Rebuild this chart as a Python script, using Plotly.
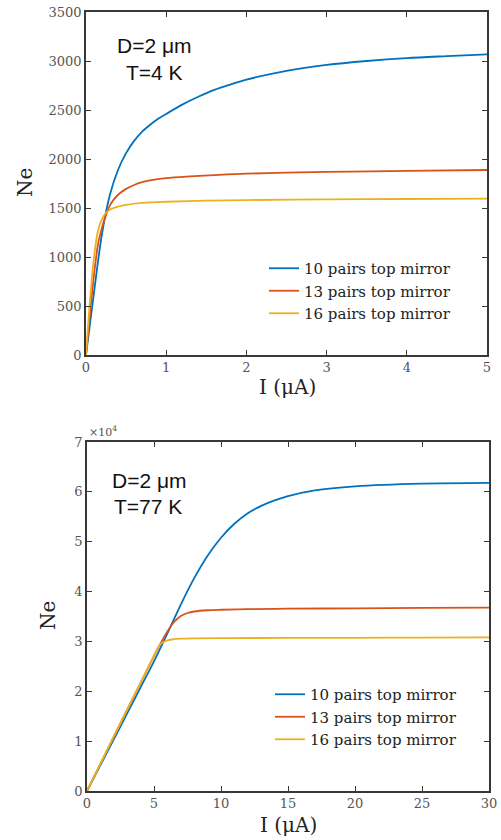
import plotly.graph_objects as go

# ---------------- data: D=2 um, T=4 K ----------------
names = ["10 pairs top mirror", "13 pairs top mirror", "16 pairs top mirror"]
colors = ["#0072BD", "#D95319", "#EDB120"]

I4_10 = [0, 0.1, 0.2, 0.3, 0.4, 0.5, 0.6, 0.7, 0.8, 0.9, 1.0, 1.2, 1.4, 1.6, 1.8, 2.0, 2.5, 3.0, 3.5, 4.0, 4.5, 5.0]
Ne4_10 = [0, 640, 1240, 1640, 1890, 2060, 2185, 2280, 2350, 2410, 2460, 2555, 2635, 2705, 2760, 2810, 2900, 2960, 3000, 3030, 3050, 3068]

I4_13 = [0, 0.05, 0.1, 0.15, 0.2, 0.25, 0.3, 0.35, 0.4, 0.5, 0.6, 0.7, 0.8, 1.0, 1.3, 1.6, 2.0, 2.5, 3.0, 4.0, 5.0]
Ne4_13 = [0, 430, 820, 1130, 1300, 1430, 1530, 1590, 1635, 1695, 1735, 1763, 1782, 1805, 1822, 1835, 1850, 1860, 1868, 1879, 1888]

I4_16 = [0, 0.05, 0.1, 0.15, 0.2, 0.25, 0.3, 0.4, 0.5, 0.7, 1.0, 1.5, 2.0, 3.0, 4.0, 5.0]
Ne4_16 = [0, 560, 1000, 1270, 1390, 1450, 1485, 1515, 1533, 1552, 1564, 1575, 1581, 1588, 1592, 1596]

# ---------------- data: D=2 um, T=77 K ----------------
I77_10 = [0, 2, 4, 5, 6, 7, 8, 9, 10, 11, 12, 13, 14, 15, 17, 20, 25, 30]
Ne77_10 = [0, 10350, 20800, 26000, 31600, 37400, 42700, 47200, 50800, 53600, 55700, 57200, 58300, 59150, 60300, 61100, 61650, 61800]

I77_13 = [0, 2, 4, 5, 5.5, 6, 6.5, 7, 7.5, 8, 9, 10, 12, 15, 20, 25, 30]
Ne77_13 = [0, 10900, 21700, 27100, 29650, 32000, 33900, 35100, 35700, 36000, 36250, 36350, 36480, 36560, 36640, 36720, 36800]

I77_16 = [0, 2, 4, 5, 5.5, 6, 6.5, 7, 8, 10, 15, 20, 25, 30]
Ne77_16 = [0, 10900, 21700, 27100, 29500, 30200, 30450, 30550, 30620, 30660, 30700, 30730, 30770, 30800]

x4_ticks = [0, 1, 2, 3, 4, 5]
y4_ticks = [0, 500, 1000, 1500, 2000, 2500, 3000, 3500]
x77_ticks = [0, 5, 10, 15, 20, 25, 30]
y77_ticks = [0, 10000, 20000, 30000, 40000, 50000, 60000, 70000]
y77_ticktext = ["0", "1", "2", "3", "4", "5", "6", "7"]

W, H = 501, 840
SERIF = "DejaVu Serif"
SANS = "Liberation Sans"

fig = go.Figure()
top = [(I4_10, Ne4_10), (I4_13, Ne4_13), (I4_16, Ne4_16)]
bot = [(I77_10, Ne77_10), (I77_13, Ne77_13), (I77_16, Ne77_16)]
for k, (xs, ys) in enumerate(top):
    fig.add_trace(go.Scatter(x=xs, y=ys, mode="lines", name=names[k],
                             line=dict(color=colors[k], width=1.8, shape="spline", smoothing=0.9),
                             xaxis="x", yaxis="y", legend="legend"))
for k, (xs, ys) in enumerate(bot):
    fig.add_trace(go.Scatter(x=xs, y=ys, mode="lines", name=names[k],
                             line=dict(color=colors[k], width=1.8, shape="spline", smoothing=0.9),
                             xaxis="x2", yaxis="y2", legend="legend2"))

axis_common = dict(showline=True, linecolor="#383838", linewidth=1.5, mirror="ticks",
                   ticks="inside", ticklen=5, tickcolor="#383838", tickwidth=1.2,
                   showgrid=False, zeroline=False, automargin=False,
                   tickfont=dict(family=SERIF, size=13, color="#555555"))

def px_x(p):
    return p / W

def px_y(p):
    return 1 - p / H

fig.update_layout(
    width=W, height=H,
    margin=dict(l=0, r=0, t=0, b=0, autoexpand=False),
    paper_bgcolor="white", plot_bgcolor="white",
    xaxis=dict(domain=[px_x(86), px_x(487)], anchor="y", range=[0, 5], tickvals=x4_ticks, **axis_common),
    yaxis=dict(domain=[px_y(355), px_y(12)], anchor="x", range=[0, 3500], tickvals=y4_ticks, **axis_common),
    xaxis2=dict(domain=[px_x(87), px_x(489)], anchor="y2", range=[0, 30], tickvals=x77_ticks, **axis_common),
    yaxis2=dict(domain=[px_y(791), px_y(442)], anchor="x2", range=[0, 70000],
                tickvals=y77_ticks, ticktext=y77_ticktext, **axis_common),
    legend=dict(x=px_x(264), y=px_y(252), xanchor="left", yanchor="top",
                bgcolor="rgba(0,0,0,0)", font=dict(family=SERIF, size=15, color="#222222"),
                tracegroupgap=0),
    legend2=dict(x=px_x(270), y=px_y(678), xanchor="left", yanchor="top",
                 bgcolor="rgba(0,0,0,0)", font=dict(family=SERIF, size=15, color="#222222"),
                 tracegroupgap=0),
    showlegend=True,
)

def label(x, y, text, family, size, color, angle=0, xa="center", ya="middle"):
    return dict(x=px_x(x), y=px_y(y), text=text, textangle=angle, showarrow=False,
                xref="paper", yref="paper", xanchor=xa, yanchor=ya,
                font=dict(family=family, size=size, color=color))

ann = [
    label(154, 45, "D=2 μm", SANS, 21, "#111111"),
    label(154, 72, "T=4 K", SANS, 21, "#111111"),
    label(149, 480, "D=2 μm", SANS, 21, "#111111"),
    label(148, 506, "T=77 K", SANS, 21, "#111111"),
    label(25, 183, "Ne", SERIF, 20, "#222222", angle=-90),
    label(287, 387, "I (μA)", SERIF, 20, "#222222"),
    label(48, 616, "Ne", SERIF, 20, "#222222", angle=-90),
    label(288, 825, "I (μA)", SERIF, 20, "#222222"),
    label(87, 441, "×10<sup>4</sup>", SERIF, 11, "#555555", xa="left", ya="bottom"),
]
fig.update_layout(annotations=ann)

fig.write_html("out.html")
